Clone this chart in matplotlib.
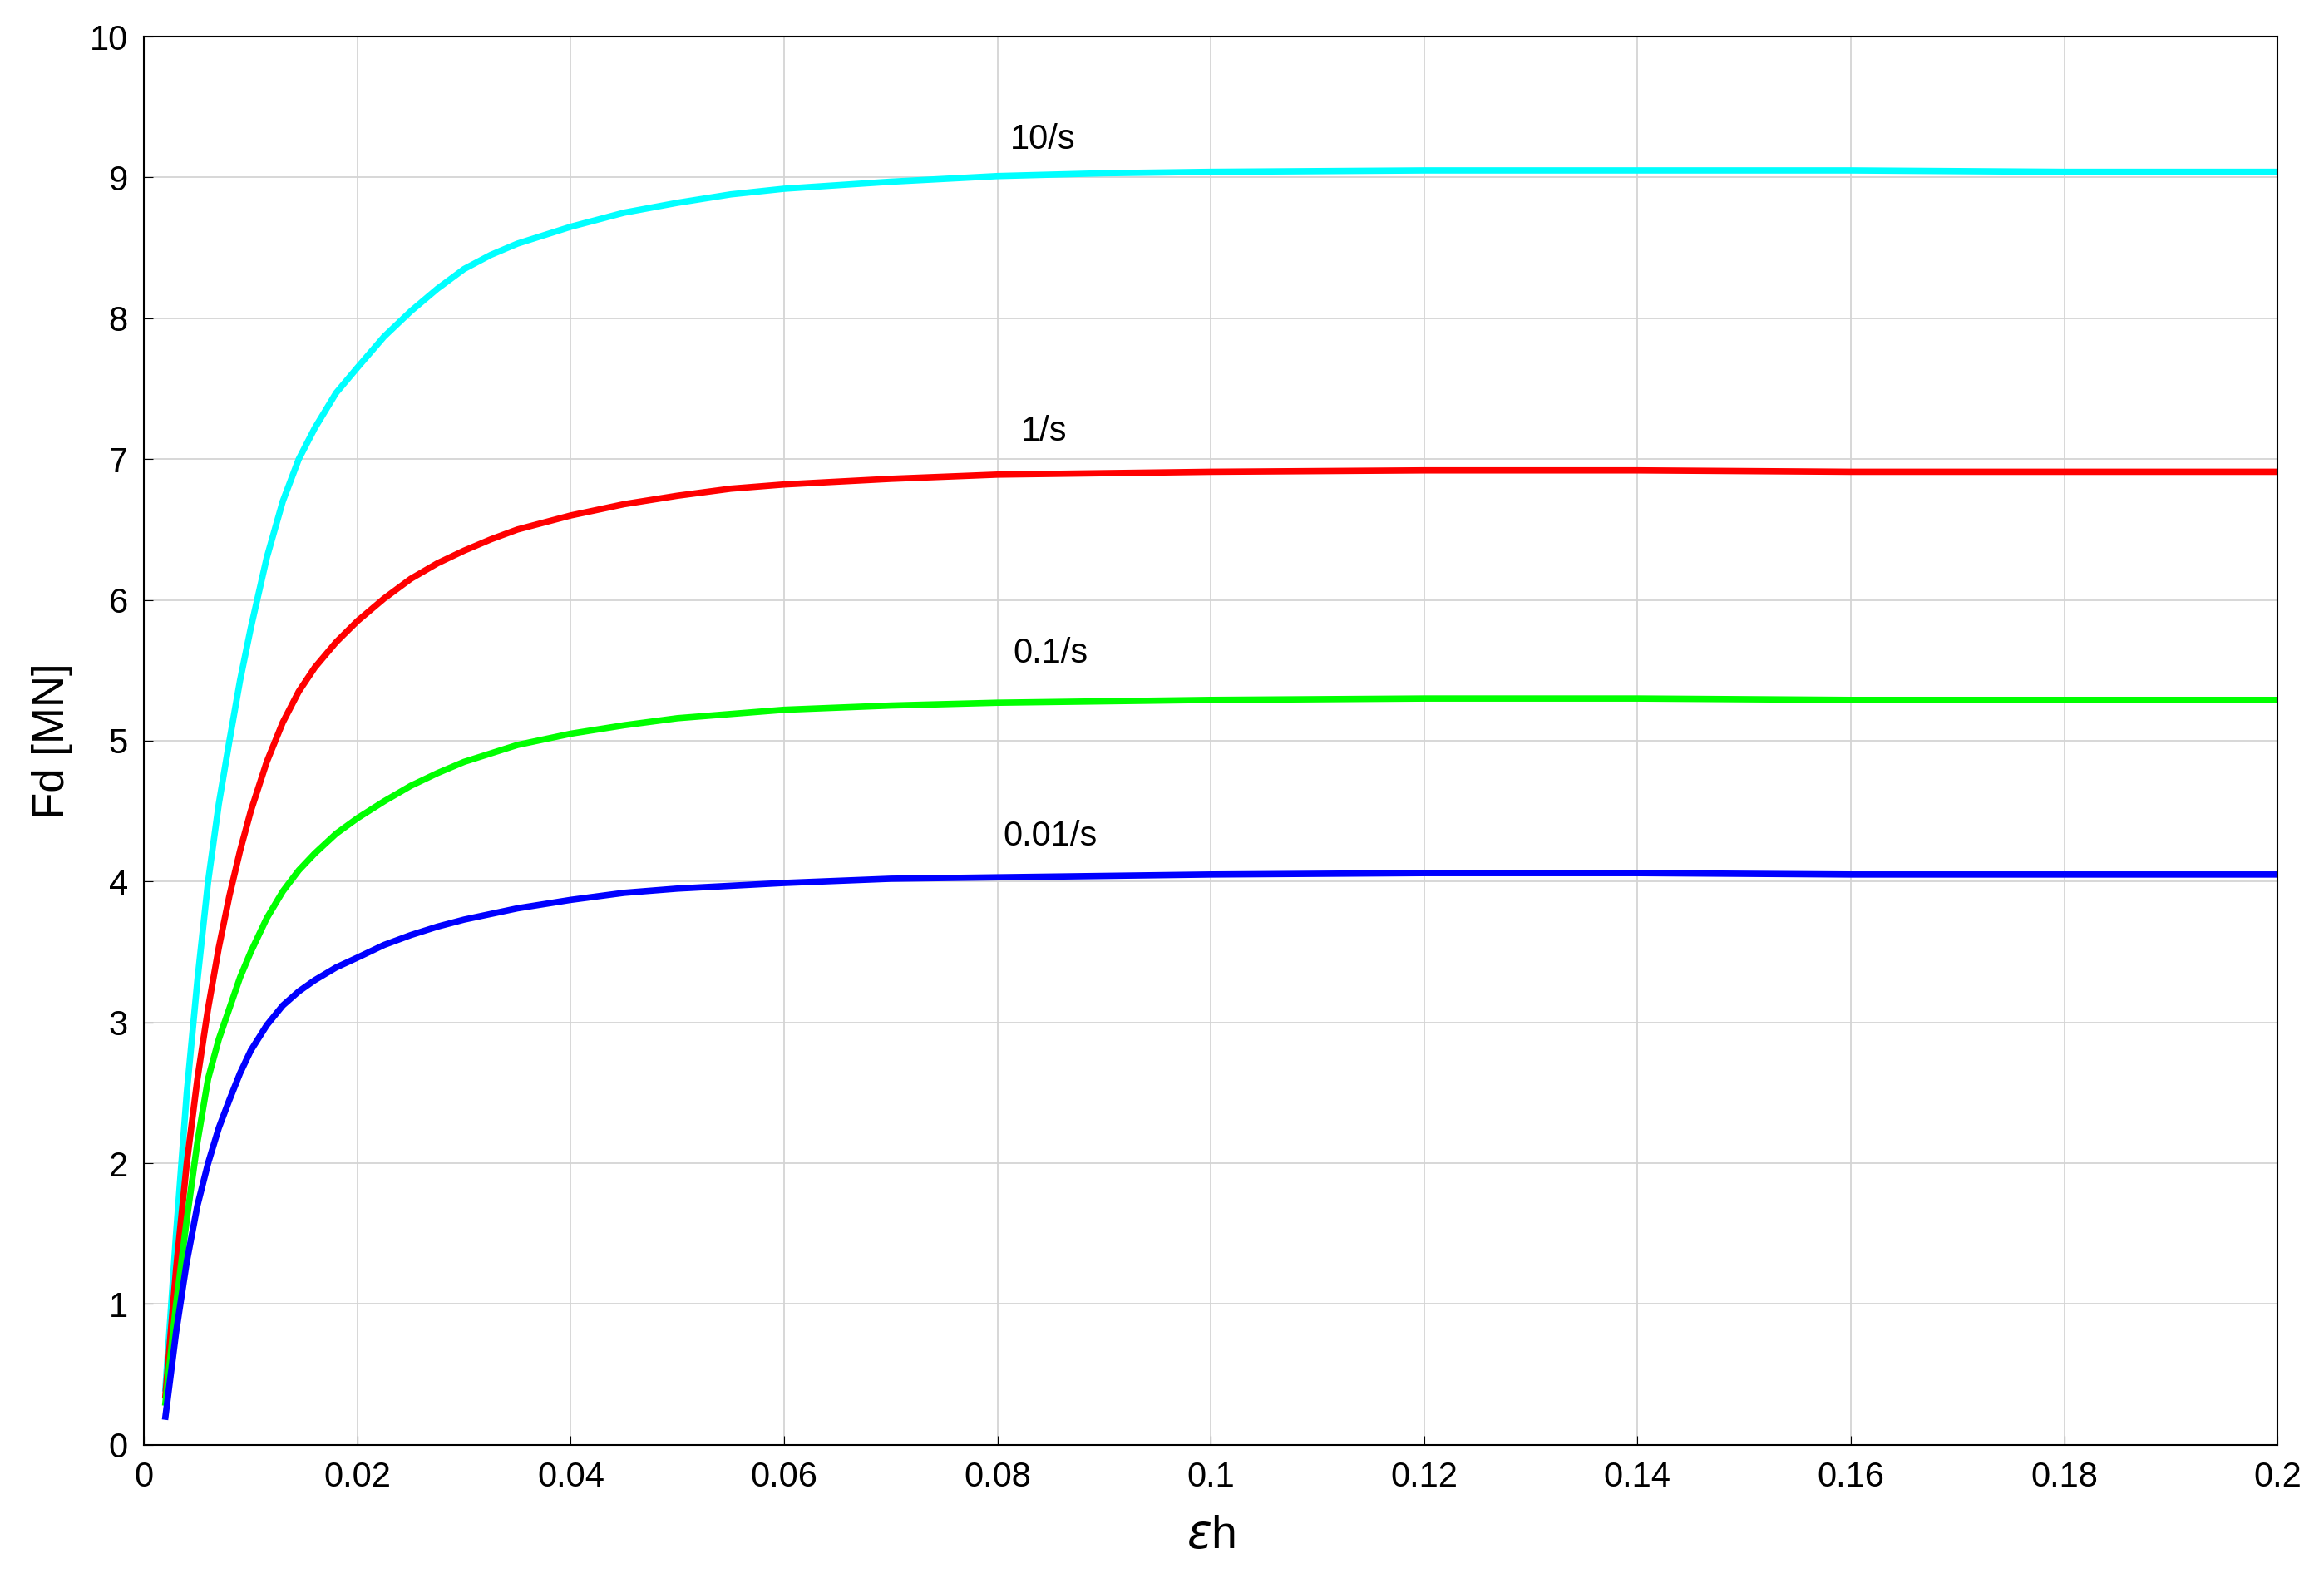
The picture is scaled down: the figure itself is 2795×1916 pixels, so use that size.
import matplotlib
matplotlib.use("Agg")
import matplotlib.pyplot as plt

plt.rcParams['font.family'] = ['Liberation Sans', 'DejaVu Sans']

x = [0.002, 0.003, 0.004, 0.005, 0.006, 0.007, 0.008, 0.009, 0.01, 0.0115, 0.013, 0.0145, 0.016, 0.018, 0.02, 0.0225, 0.025, 0.0275, 0.03, 0.0325, 0.035, 0.04, 0.045, 0.05, 0.055, 0.06, 0.07, 0.08, 0.09, 0.1, 0.12, 0.14, 0.16, 0.18, 0.2]
y_001 = [0.2, 0.8, 1.3, 1.7, 2.0, 2.25, 2.45, 2.64, 2.8, 2.98, 3.12, 3.22, 3.3, 3.39, 3.46, 3.55, 3.62, 3.68, 3.73, 3.77, 3.81, 3.87, 3.92, 3.95, 3.97, 3.99, 4.02, 4.03, 4.04, 4.05, 4.06, 4.06, 4.05, 4.05, 4.05]
y_01 = [0.3, 1.0, 1.6, 2.15, 2.6, 2.88, 3.1, 3.32, 3.5, 3.74, 3.93, 4.08, 4.2, 4.34, 4.45, 4.57, 4.68, 4.77, 4.85, 4.91, 4.97, 5.05, 5.11, 5.16, 5.19, 5.22, 5.25, 5.27, 5.28, 5.29, 5.3, 5.3, 5.29, 5.29, 5.29]
y_1 = [0.35, 1.25, 2.0, 2.6, 3.1, 3.53, 3.9, 4.22, 4.5, 4.85, 5.13, 5.35, 5.52, 5.7, 5.85, 6.01, 6.15, 6.26, 6.35, 6.43, 6.5, 6.6, 6.68, 6.74, 6.79, 6.82, 6.86, 6.89, 6.9, 6.91, 6.92, 6.92, 6.91, 6.91, 6.91]
y_10 = [0.4, 1.5, 2.5, 3.3, 4.0, 4.55, 5.0, 5.43, 5.8, 6.3, 6.7, 7.0, 7.22, 7.47, 7.65, 7.87, 8.05, 8.21, 8.35, 8.45, 8.53, 8.65, 8.75, 8.82, 8.88, 8.92, 8.97, 9.01, 9.03, 9.04, 9.05, 9.05, 9.05, 9.04, 9.04]

series = [(y_10, '#00FFFF', '10/s', 0.0812, 9.15),
          (y_1, '#FF0000', '1/s', 0.0822, 7.08),
          (y_01, '#00FF00', '0.1/s', 0.0815, 5.5),
          (y_001, '#0000FF', '0.01/s', 0.0805, 4.2)]

fig = plt.figure(figsize=(27.95, 19.16), dpi=100)
ax = fig.add_axes([0.062, 0.093, 0.918, 0.884])
for y, c, lab, tx, ty in series:
    ax.plot(x, y, color=c, linewidth=5.5, solid_joinstyle='round')
    ax.text(tx, ty, lab, fontsize=30, va='bottom', ha='left')

ax.set_xlim(0, 0.2)
ax.set_ylim(0, 10)
ax.set_xticks([0, 0.02, 0.04, 0.06, 0.08, 0.1, 0.12, 0.14, 0.16, 0.18, 0.2])
ax.set_xticklabels(['0', '0.02', '0.04', '0.06', '0.08', '0.1', '0.12', '0.14', '0.16', '0.18', '0.2'])
ax.set_yticks(range(0, 11))
ax.grid(True, color='#D4D4D4', linewidth=1.3)
ax.tick_params(labelsize=30, direction='in', length=8, pad=14)
ax.set_xlabel(r'$\epsilon$h', fontsize=40, labelpad=18)
ax.set_ylabel('Fd [MN]', fontsize=38, labelpad=14)
for s in ax.spines.values():
    s.set_linewidth(1.5)
fig.savefig('out.png')
